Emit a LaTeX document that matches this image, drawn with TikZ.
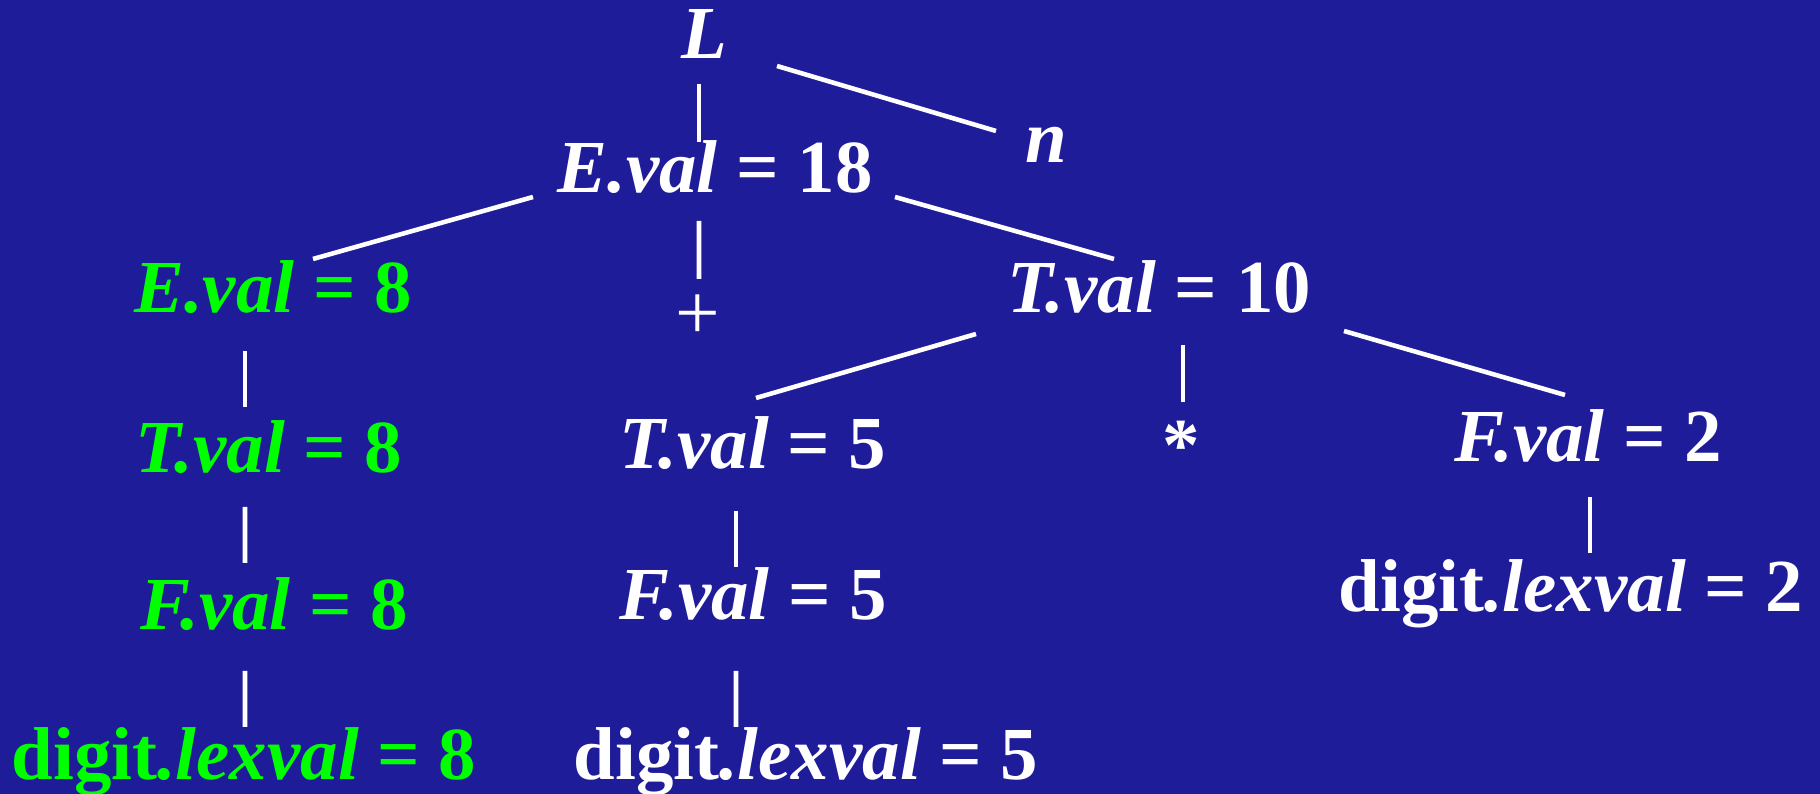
\documentclass[tikz,border=0pt]{standalone}
\usepackage{fontspec}
\setmainfont{Liberation Serif}
\usepackage{xcolor}
\usetikzlibrary{calc}
\definecolor{bgblue}{HTML}{1F1C99}
\definecolor{attrgreen}{HTML}{00FF00}

\begin{document}
\begin{tikzpicture}[
      every node/.style={font=\fontsize{21.3}{25}\selectfont\bfseries, inner sep=0pt},
      lbl/.style={text=white, anchor=base},
      grn/.style={text=attrgreen, anchor=base},
      link/.style={draw=white, line width=1.3pt}
  ]

    % ---- Background ----
    \useasboundingbox (0,0) rectangle (18.2,7.94);
    \fill[bgblue] (0,0) rectangle (18.2,7.94);

    % ---- Top levels ----
    \node[lbl] (L) at (7.04, 7.35) {\textit{L}};
    \node[lbl] (n) at (10.46, 6.31) {\textit{n}};
    \node[lbl] (e18) at (7.15, 6.01) {\textit{E.val} = 18};

    % ---- Left subtree (green) ----
    \node[grn] (e8) at (2.73, 4.81) {\textit{E.val} = 8};
    \node[grn] (t8) at (2.69, 3.21) {\textit{T.val} = 8};
    \node[grn] (f8) at (2.74, 1.64) {\textit{F.val} = 8};
    \node[grn] (d8) at (2.44, 0.14) {digit\textit{.lexval} = 8};

    % ---- Operator ----
    \node[text=white, font=\fontsize{22.5}{26}\selectfont] (plus) at (6.98, 4.77) {+};

    % ---- Right subtree ----
    \node[lbl] (t10) at (11.59, 4.81) {\textit{T.val} = 10};
    \node[lbl] (t5) at (7.53, 3.25) {\textit{T.val} = 5};
    \node[text=white] (star) at (11.81, 3.48) {*};
    \node[lbl] (f2) at (15.88, 3.32) {\textit{F.val} = 2};
    \node[lbl] (f5) at (7.53, 1.74) {\textit{F.val} = 5};
    \node[lbl] (d2) at (15.71, 1.82) {digit\textit{.lexval} = 2};
    \node[lbl] (d5) at (8.06, 0.14) {digit\textit{.lexval} = 5};

    % ---- Tree lines ----
    \foreach \p/\dp/\q/\dq in {
        L.base/{-0.05,-0.25}/e18.base/{-0.16,0.51},
        L.base/{0.73,-0.07}/n.base/{-0.50,0.32},
        e18.base/{-1.82,-0.04}/e8.base/{0.40,0.54},
        e18.base/{-0.16,-0.28}/plus.center/{0.01,0.38},
        e18.base/{1.80,-0.04}/t10.base/{-0.45,0.54},
        t10.base/{-1.83,-0.21}/t5.base/{0.03,0.71},
        t10.base/{0.24,-0.32}/star.center/{0.02,0.44},
        t10.base/{1.85,-0.18}/f2.base/{-0.23,0.67},
        e8.base/{-0.28,-0.38}/t8.base/{-0.24,0.66},
        t8.base/{-0.24,-0.34}/f8.base/{-0.29,0.67},
        f8.base/{-0.29,-0.41}/d8.base/{0.01,0.53},
        t5.base/{-0.17,-0.42}/f5.base/{-0.17,0.53},
        f5.base/{-0.17,-0.51}/d5.base/{-0.70,0.53},
        f2.base/{0.02,-0.35}/d2.base/{0.19,0.59}} {
      \draw[link] ($(\p)+(\dp)$) -- ($(\q)+(\dq)$);
    }

  \end{tikzpicture}
\end{document}
